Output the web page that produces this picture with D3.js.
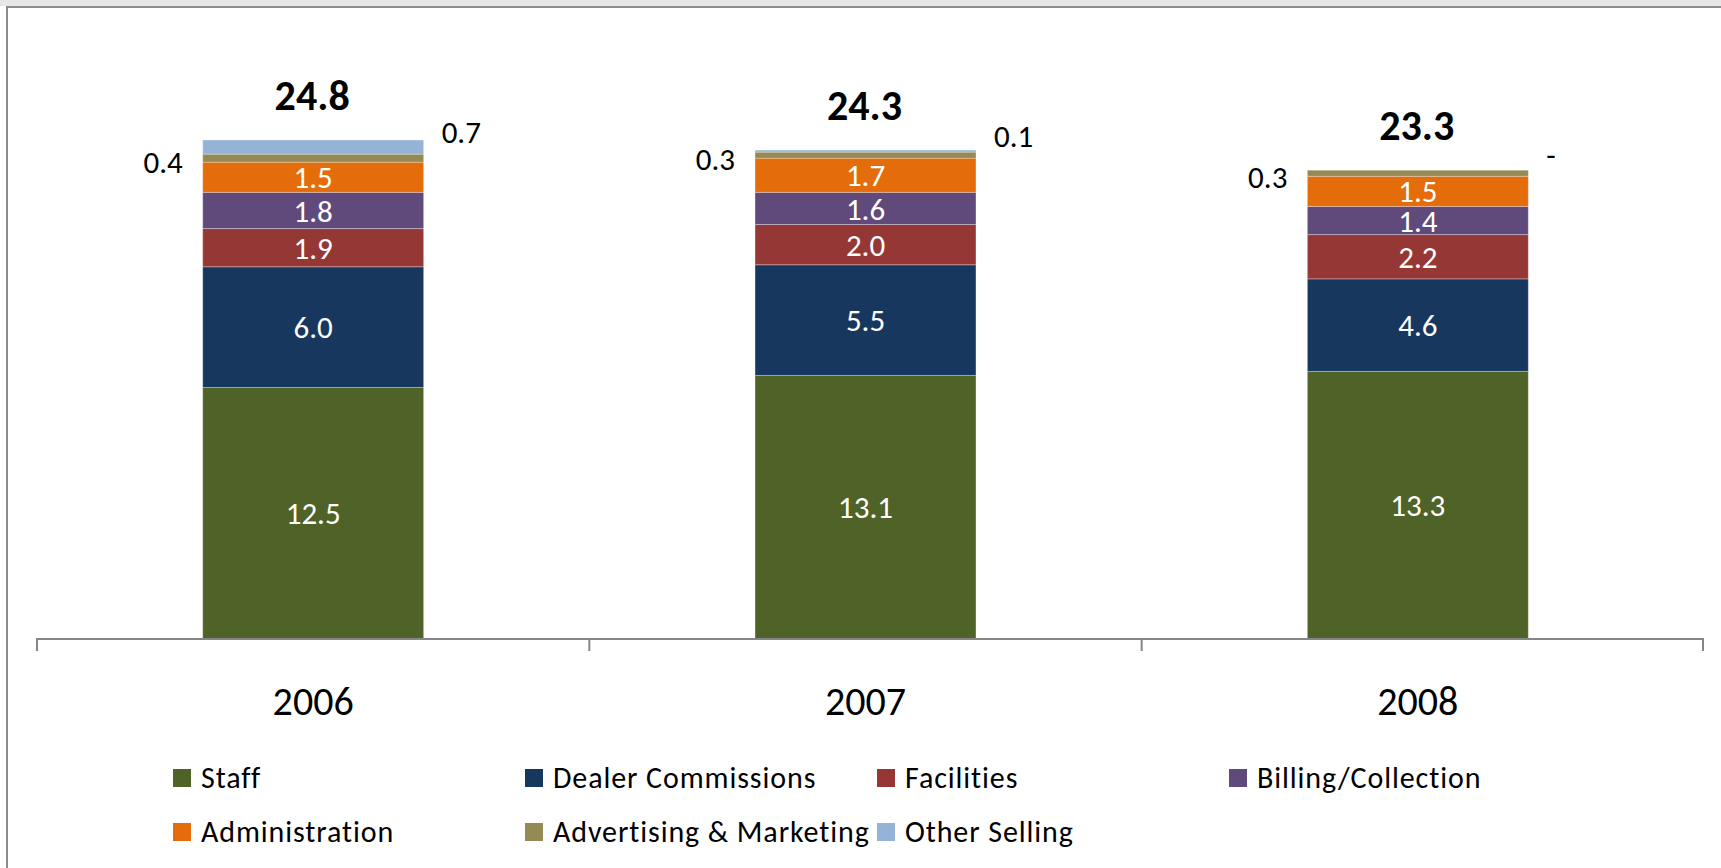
<!DOCTYPE html>
<html>
<head>
<meta charset="utf-8">
<script src="https://cdnjs.cloudflare.com/ajax/libs/d3/7.8.5/d3.min.js"></script>
<style>
  body { margin: 0; background: #fff; }
  svg text { font-family: Carlito, Calibri, Lato, sans-serif; }
</style>
</head>
<body>
<div id="chart-area"></div>
<script>
var years = ["2006", "2007", "2008"];
var staff = [12.5, 13.1, 13.3];
var dealer = [6.0, 5.5, 4.6];
var facilities = [1.9, 2.0, 2.2];
var billing = [1.8, 1.6, 1.4];
var admin = [1.5, 1.7, 1.5];
var advertising = [0.4, 0.3, 0.3];
var otherSelling = [0.7, 0.1, 0.0];
var totals = [24.8, 24.3, 23.3];

var seriesNames = ["Staff", "Dealer Commissions", "Facilities", "Billing/Collection",
                   "Administration", "Advertising & Marketing", "Other Selling"];
var seriesColors = ["#4f6228", "#17375e", "#953735", "#604a7b", "#e46c0a", "#948a54", "#95b3d7"];
var seriesValues = [staff, dealer, facilities, billing, admin, advertising, otherSelling];

var width = 1721, height = 868;

var svg = d3.select("#chart-area").append("svg")
    .attr("width", width)
    .attr("height", height);

// frame like the spreadsheet chart area
svg.append("rect").attr("x", 0).attr("y", 0).attr("width", width).attr("height", 6).attr("fill", "#e6e6e6");
svg.append("line").attr("x1", 6).attr("x2", width).attr("y1", 7).attr("y2", 7)
    .attr("stroke", "#8c8c8c").attr("stroke-width", 2);
svg.append("line").attr("x1", 7).attr("x2", 7).attr("y1", 6).attr("y2", height)
    .attr("stroke", "#8c8c8c").attr("stroke-width", 2);

var x0 = 37, x1 = 1694, axisEnd = 1703, baseY = 639;

var xOuter = d3.scaleBand().domain(years).range([x0, x1]).padding(0);
var x = d3.scaleBand().domain(years).range([x0, x1])
    .paddingInner(0.6).paddingOuter(0.3);
var y = d3.scaleLinear().domain([0, 25]).range([baseY, 136]);

// stack the series
var rows = years.map(function(yr, i) {
    var r = { year: yr };
    seriesNames.forEach(function(n, k) { r[n] = seriesValues[k][i]; });
    return r;
});
var stacked = d3.stack().keys(seriesNames)(rows);

var g = svg.append("g");

stacked.forEach(function(layer, k) {
    g.selectAll("rect.s" + k)
        .data(layer)
        .enter().append("rect")
        .attr("class", "s" + k)
        .attr("x", function(d) { return x(d.data.year); })
        .attr("y", function(d) { return y(d[1]); })
        .attr("width", x.bandwidth())
        .attr("height", function(d) { return y(d[0]) - y(d[1]); })
        .attr("fill", seriesColors[k])
        .attr("stroke", "#ffffff")
        .attr("stroke-opacity", 0.3)
        .attr("stroke-width", 1);
});

// axis
var xAxisGroup = svg.append("g")
    .attr("transform", "translate(0," + baseY + ")");
xAxisGroup.call(d3.axisBottom(xOuter).tickSizeInner(0).tickSizeOuter(12).tickPadding(48));
xAxisGroup.select(".domain")
    .attr("d", "M" + x0 + ",12V0H" + axisEnd + "V12")
    .attr("stroke", "#868686").attr("stroke-width", 2);
xAxisGroup.selectAll("text")
    .attr("font-size", "40px")
    .attr("fill", "#000")
    .style("font-family", "Carlito, Calibri, Lato, sans-serif");
xAxisGroup.selectAll(".sep")
    .data(years.slice(1))
    .enter().append("line")
    .attr("class", "sep")
    .attr("x1", function(d) { return xOuter(d); })
    .attr("x2", function(d) { return xOuter(d); })
    .attr("y1", 0).attr("y2", 12)
    .attr("stroke", "#868686").attr("stroke-width", 2);

// labels inside the bars
var fmt = d3.format(".1f");
stacked.slice(0, 5).forEach(function(layer) {
    g.selectAll(null)
        .data(layer)
        .enter().append("text")
        .attr("x", function(d) { return x(d.data.year) + x.bandwidth() / 2; })
        .attr("y", function(d) { return (y(d[0]) + y(d[1])) / 2; })
        .attr("dy", "0.36em")
        .attr("text-anchor", "middle")
        .attr("font-size", "31px")
        .attr("fill", "#fff")
        .text(function(d) { return fmt(d[1] - d[0]); });
});

// advertising labels, left of bar
g.selectAll(null)
    .data(stacked[5])
    .enter().append("text")
    .attr("x", function(d) { return x(d.data.year) - 20; })
    .attr("y", function(d) { return (y(d[0]) + y(d[1])) / 2 + 4; })
    .attr("dy", "0.36em")
    .attr("text-anchor", "end")
    .attr("font-size", "31px")
    .attr("fill", "#000")
    .text(function(d) { var v = d[1] - d[0]; return v > 0.001 ? fmt(v) : "-"; });

// other selling labels, right of bar
g.selectAll(null)
    .data(stacked[6])
    .enter().append("text")
    .attr("x", function(d) { return x(d.data.year) + x.bandwidth() + 18; })
    .attr("y", function(d) { return (y(d[0]) + y(d[1])) / 2 - 15; })
    .attr("dy", "0.36em")
    .attr("text-anchor", "start")
    .attr("font-size", "31px")
    .attr("fill", "#000")
    .text(function(d) { var v = d[1] - d[0]; return v > 0.001 ? fmt(v) : "-"; });

// totals
g.selectAll(null)
    .data(years)
    .enter().append("text")
    .attr("x", function(d) { return x(d) + x.bandwidth() / 2 - 1; })
    .attr("y", function(d, i) { return y(totals[i]) - 30; })
    .attr("text-anchor", "middle")
    .attr("font-size", "42px")
    .attr("font-weight", "bold")
    .attr("fill", "#000")
    .text(function(d, i) { return fmt(totals[i]); });

// legend
var legend = svg.append("g");
var items = legend.selectAll("g")
    .data(seriesNames)
    .enter().append("g")
    .attr("transform", function(d, i) {
        return "translate(" + (173 + (i % 4) * 352) + "," + (769 + Math.floor(i / 4) * 54) + ")";
    });
items.append("rect")
    .attr("width", 18).attr("height", 18)
    .attr("fill", function(d, i) { return seriesColors[i]; });
items.append("text")
    .attr("x", 28).attr("y", 19)
    .attr("font-size", "30px")
    .attr("letter-spacing", "0.9px")
    .attr("fill", "#000")
    .text(function(d) { return d; });
</script>
</body>
</html>
